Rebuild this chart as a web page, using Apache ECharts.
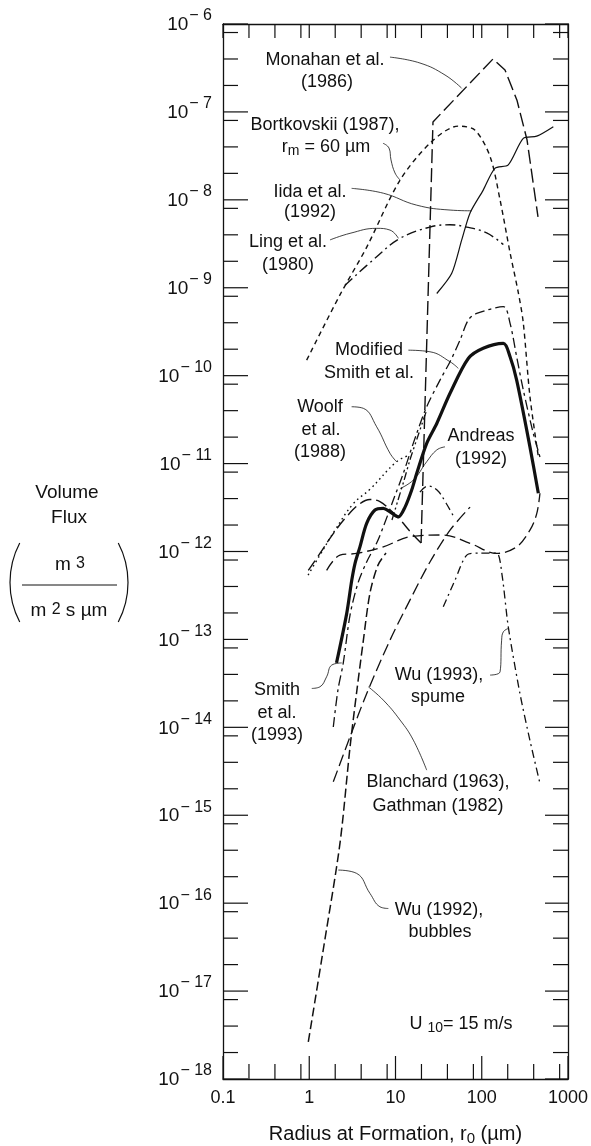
<!DOCTYPE html>
<html><head><meta charset="utf-8">
<script src="https://cdn.jsdelivr.net/npm/echarts@6/dist/echarts.min.js"></script>
<style>html,body{margin:0;padding:0;background:#fff}#c{width:591px;height:1146px}</style>
</head><body><div id="c"></div>
<script>
// ---------- axis ticks ----------
const xTicksMajor = [0.1, 1, 10, 100, 1000];
const xTicksMinor = [0.2, 0.4, 0.8, 2, 4, 8, 20, 40, 80, 200, 400, 800];
const yTicksMajor = [1e-18, 1e-17, 1e-16, 1e-15, 1e-14, 1e-13, 1e-12, 1e-11, 1e-10, 1e-9, 1e-8, 1e-7, 1e-6];
const yTicksMinor = [2e-18, 4e-18, 8e-18, 2e-17, 4e-17, 8e-17, 2e-16, 4e-16, 8e-16, 2e-15, 4e-15, 8e-15,
  2e-14, 4e-14, 8e-14, 2e-13, 4e-13, 8e-13, 2e-12, 4e-12, 8e-12, 2e-11, 4e-11, 8e-11,
  2e-10, 4e-10, 8e-10, 2e-9, 4e-9, 8e-9, 2e-8, 4e-8, 8e-8, 2e-7, 4e-7, 8e-7];

// ---------- curves: [radius (um), volume flux] ----------
const monahanBubble = [[0.975,6.1e-13],[1.33,9.5e-13],[1.9,1.6e-12],[2.72,2.5e-12],[3.87,3.5e-12],[5.06,3.9e-12],[6.6,3.7e-12],[8.6,3.0e-12],[11.3,2.3e-12],[14.7,1.7e-12],[19.8,1.25e-12]];
const monahanSpume = [[19.8,1.25e-12],[27.2,7.7e-8],[135,4.0e-7],[186,3.0e-7],[256,1.36e-7],[335,4.8e-8],[449,6.4e-9]];
const bortkovskii = [[0.933,1.5e-10],[2.27,8.3e-10],[4.64,2.9e-9],[11.3,1.68e-8],[26.3,4.6e-8],[53.5,6.9e-8],[83.6,6.2e-8],[125,3.1e-8],[163,1.0e-8],[213,2.5e-9],[266,8.7e-10],[303,4.0e-10],[362,5.8e-11],[453,1.2e-11]];
const iida = [[30.1,8.6e-10],[44.9,1.46e-9],[58.6,3.5e-9],[73.2,7.1e-9],[104,1.29e-8],[142,2.28e-8],[203,2.5e-8],[303,5.0e-8],[434,5.3e-8],[676,6.8e-8]];
const ling = [[2.6,1.07e-9],[6.05,2.25e-9],[11.3,3.65e-9],[25.1,4.9e-9],[42.8,5.2e-9],[67,4.9e-9],[114,4.2e-9],[178,3.1e-9]];
const modifiedSmith = [[2.07,5.4e-14],[2.72,1.98e-13],[3.11,4.7e-13],[3.39,7.3e-13],[3.87,1.13e-12],[4.63,2.09e-12],[5.78,2.96e-12],[7.22,3.09e-12],[8.63,2.83e-12],[10.8,2.48e-12],[12.9,3.2e-12],[15.4,5.0e-12],[17.6,7.7e-12],[23,1.7e-11],[30.1,2.86e-11],[42.9,6.3e-11],[69.8,1.57e-10],[104,2.05e-10],[178,2.33e-10],[213,1.64e-10],[254,8.9e-11],[362,1.55e-11],[453,4.6e-12]];
const smith1993 = [[1.9,1.01e-14],[2.15,2.65e-14],[2.48,5.4e-14],[2.97,1.89e-13],[3.67,4.37e-13],[4.63,7.6e-13],[6.05,1.25e-12],[7.22,1.91e-12],[9.43,3.85e-12],[12.3,7.7e-12],[14.7,1.31e-11],[17.6,2.2e-11],[23,4.43e-11],[32.8,8.9e-11],[42.9,1.44e-10],[56,2.54e-10],[69.8,4.3e-10],[87.5,5.1e-10],[178,6.1e-10],[213,3.94e-10],[254,1.64e-10],[303,6.9e-11],[396,2.2e-11],[473,1.19e-11]];
const woolf = [[0.97,5.4e-13],[1.33,9.1e-13],[1.99,1.75e-12],[3.24,3.5e-12],[5.06,5.1e-12],[10.3,1.05e-11],[14.7,1.25e-11]];
const andreas = [[9.1,2.28e-12],[10.7,3.85e-12],[12.6,6.5e-12],[14.7,1.1e-11],[18.2,2.06e-11],[22.6,3.86e-11]];
const dashDotHump = [[19.2,4.74e-12],[23.8,5.55e-12],[30.3,5.0e-12],[38.5,3.56e-12],[47.6,2.46e-12]];
const longDashArc = [[1.59,6.1e-13],[2.27,9.1e-13],[3.55,9.5e-13],[7.22,1.13e-12],[14.7,1.47e-12],[35.8,1.54e-12],[73.2,1.24e-12],[149,9.5e-13],[254,1.13e-12],[362,1.75e-12],[434,2.7e-12],[473,4.6e-12]];
const blanchardGathman = [[1.9,2.4e-15],[2.97,7.8e-15],[4.64,2.43e-14],[8.63,9.8e-14],[14.7,2.8e-13],[25.1,7.6e-13],[42.9,1.75e-12],[73.2,3.2e-12]];
const wu1993Spume = [[35.8,2.35e-13],[49,4.73e-13],[67,9.1e-13],[95.5,9.6e-13],[149,9.6e-13],[172,5.4e-13],[203,1.39e-13],[277,2.43e-14],[362,7.1e-15],[473,2.3e-15]];
const wu1992Bubbles = [[0.975,2.64e-18],[1.48,3.3e-17],[2.27,4.78e-16],[2.97,5.96e-15],[3.57,2.65e-14],[4.2,9.1e-14],[5.06,3.37e-13],[6.27,7.0e-13],[7.76,9.6e-13]];

// ---------- leader lines (data coordinates) ----------
const leaderMonahan = [[8.63,4.2e-7],[19.2,3.6e-7],[37.5,2.63e-7],[58.6,1.86e-7]];
const leaderBortkovskii = [[7.16,4.4e-8],[8.41,3.88e-8],[8.87,2.84e-8],[9.87,2.02e-8],[11.3,1.68e-8]];
const leaderIida = [[3.1,1.35e-8],[7.22,1.19e-8],[17.6,8.7e-9],[42.9,7.65e-9],[76.4,7.5e-9]];
const leaderLing = [[1.74,3.5e-9],[2.97,4.16e-9],[6.05,4.74e-9],[8.63,4.53e-9],[10.8,3.65e-9]];
const leaderModSmith = [[14.1,1.95e-10],[25.1,1.87e-10],[42.9,1.44e-10],[53.5,1.21e-10]];
const leaderWoolf = [[3.1,4.43e-11],[4.24,4.25e-11],[6.05,2.62e-11],[8.63,1.31e-11],[10.3,1.05e-11]];
const leaderAndreas = [[37.5,1.55e-11],[30.1,1.43e-11],[23,1.05e-11],[16.1,6.5e-12],[11.3,5.2e-12]];
const leaderSmith1993 = [[1.07,2.77e-14],[1.33,2.89e-14],[1.59,3.76e-14],[1.82,5.1e-14],[2.38,5.4e-14]];
const leaderWu1993 = [[125,3.93e-14],[163,4.28e-14],[170,9.8e-14],[178,1.22e-13],[203,1.33e-13]];
const leaderBlanchard = [[23,3.26e-15],[16.1,7.15e-15],[11.3,1.21e-14],[7.22,2.04e-14],[4.84,2.89e-14]];
const leaderWu1992 = [[8.26,8.7e-17],[6.6,9.1e-17],[5.06,1.29e-16],[3.55,2.18e-16],[2.17,2.38e-16]];

// ---------- styling / layout ----------
const FONT = '"Liberation Sans", Arial, Helvetica, sans-serif';
const X_MIN = 0.1, X_MAX = 1000, Y_MIN = 1e-18, Y_MAX = 1e-6;
const INK = '#111';
const measureCtx = document.createElement('canvas').getContext('2d');
function textWidth(str, font) { measureCtx.font = font; return measureCtx.measureText(str).width; }

function curve(name, data, dash, width, smooth, z) {
  return {type:'line', name, data, symbol:'none', showSymbol:false, smooth: smooth,
    clip:false, z: z || 3, silent:true,
    lineStyle:{color:INK, width:width, type: dash, cap:'butt', join:'round'}};
}
function leader(name, data) {
  return {type:'line', name, data, symbol:'none', showSymbol:false, smooth:0.45, clip:false, z:4, silent:true,
    lineStyle:{color:INK, width:0.8, type:'solid'}};
}
function ticks(name, values, axis, lenA, lenB) {
  return {type:'custom', name, coordinateSystem:'cartesian2d', clip:false, silent:true, z:6,
    data: values.map(v => axis === 'x' ? [v, Y_MIN] : [X_MIN, v]),
    renderItem: function (params, api) {
      const st = {stroke:INK, lineWidth:1.2};
      if (axis === 'x') {
        const v = api.value(0);
        const a = api.coord([v, Y_MIN]), b = api.coord([v, Y_MAX]);
        return {type:'group', children:[
          {type:'line', shape:{x1:a[0], y1:a[1], x2:a[0], y2:a[1]-lenA}, style:st},
          {type:'line', shape:{x1:b[0], y1:b[1], x2:b[0], y2:b[1]+lenB}, style:st}]};
      } else {
        const v = api.value(1);
        const a = api.coord([X_MIN, v]), b = api.coord([X_MAX, v]);
        return {type:'group', children:[
          {type:'line', shape:{x1:a[0], y1:a[1], x2:a[0]+lenA, y2:a[1]}, style:st},
          {type:'line', shape:{x1:b[0], y1:b[1], x2:b[0]-lenB, y2:b[1]}, style:st}]};
      }
    }};
}
// y tick labels: "10" with a raised exponent, placed on the axis scale
const BASE_FONT = '19px ' + FONT, SUP_FONT = '16px ' + FONT;
const yLabelSeries = {
  type:'custom', name:'yLabels', coordinateSystem:'cartesian2d', clip:false, silent:true, z:8,
  data: yTicksMajor.map(v => [X_MIN, v]),
  renderItem: function (params, api) {
    const v = api.value(1);
    const p = api.coord([X_MIN, v]);
    const sup = '− ' + (-Math.round(Math.log10(v)));
    const right = p[0] - 11;
    const ws = textWidth(sup, SUP_FONT);
    return {type:'group', children:[
      {type:'text', style:{text:'10', x:right - ws - 1, y:p[1] + 1, font:BASE_FONT, fill:INK,
        align:'right', verticalAlign:'middle', textAlign:'right', textVerticalAlign:'middle'}},
      {type:'text', style:{text:sup, x:right, y:p[1] - 8, font:SUP_FONT, fill:INK,
        align:'right', verticalAlign:'middle', textAlign:'right', textVerticalAlign:'middle'}}
    ]};
  }
};

const richBase = {
  a:{fontSize:18, fontFamily:FONT, color:INK, verticalAlign:'top', lineHeight:20},
  sub:{fontSize:14, fontFamily:FONT, color:INK, verticalAlign:'bottom', lineHeight:14, padding:[9,0,0,0]},
  ta:{fontSize:19, fontFamily:FONT, color:INK, verticalAlign:'bottom', lineHeight:19, padding:[9,0,0,0]},
  sup:{fontSize:16, fontFamily:FONT, color:INK, verticalAlign:'top', lineHeight:16}
};

function txt(text, x, y, size, rich) {
  const style = {text, x, y, fill:INK, font: size + 'px ' + FONT, textAlign:'center', textVerticalAlign:'middle'};
  if (rich) style.rich = richBase;
  return {type:'text', silent:true, z:10, style};
}

const labels = [
  txt('Monahan et al.', 325, 60, 18), txt('(1986)', 327, 82, 18),
  txt('Bortkovskii (1987),', 325, 125, 18), txt('{a|r}{sub|m}{a| = 60 µm}', 326, 148, 18, true),
  txt('Iida et al.', 310, 192, 18), txt('(1992)', 310, 212, 18),
  txt('Ling et al.', 288, 242, 18), txt('(1980)', 288, 265, 18),
  txt('Modified', 369, 350, 18), txt('Smith et al.', 369, 373, 18),
  txt('Woolf', 320, 407, 18), txt('et al.', 321, 430, 18), txt('(1988)', 320, 452, 18),
  txt('Andreas', 481, 436, 18), txt('(1992)', 481, 459, 18),
  txt('Smith', 277, 690, 18), txt('et al.', 277, 713, 18), txt('(1993)', 277, 735, 18),
  txt('Wu (1993),', 439, 675, 18), txt('spume', 438, 697, 18),
  txt('Blanchard (1963),', 438, 782, 18), txt('Gathman (1982)', 438, 806, 18),
  txt('Wu (1992),', 439, 910, 18), txt('bubbles', 440, 932, 18),
  txt('{a|U }{sub|10}{a|= 15 m/s}', 461, 1025, 18, true),
  // y-axis title
  txt('Volume', 67, 493, 19), txt('Flux', 69, 518, 19),
  txt('{ta|m }{sup|3}', 70, 565, 19, true),
  txt('{ta|m }{sup|2}{ta| s µm}', 69, 611, 19, true),
  {type:'line', silent:true, shape:{x1:22, y1:585, x2:117, y2:585}, style:{stroke:INK, lineWidth:1}},
  {type:'arc', silent:true, shape:{cx:95, cy:582.5, r:85, startAngle:Math.PI-0.483, endAngle:Math.PI+0.483, clockwise:true}, style:{stroke:INK, fill:'none', lineWidth:1.2}},
  {type:'arc', silent:true, shape:{cx:43, cy:582.5, r:85, startAngle:-0.483, endAngle:0.483, clockwise:true}, style:{stroke:INK, fill:'none', lineWidth:1.2}}
];

const chart = echarts.init(document.getElementById('c'), null, {renderer:'canvas'});
const axisLineStyle = {show:true, onZero:false, lineStyle:{color:INK, width:1.3}};
chart.setOption({
  animation:false,
  backgroundColor:'#fff',
  grid:{left:223, right:23, top:24, bottom:67, containLabel:false, outerBoundsMode:'none'},
  xAxis:[
    {type:'log', logBase:10, min:X_MIN, max:X_MAX, splitNumber:4, position:'bottom',
     axisLine:axisLineStyle, axisTick:{show:false}, minorTick:{show:false}, splitLine:{show:false},
     axisLabel:{show:true, margin:10, fontSize:18, fontFamily:FONT, color:INK, showMinLabel:true, showMaxLabel:true,
       customValues: xTicksMajor,
       formatter:v => String(Number(Number(v).toPrecision(6)))},
     name:'{a|Radius at Formation, r}{sub|0}{a| (µm)}', nameLocation:'middle', nameGap:45,
     nameTextStyle:{rich:{
       a:{fontSize:20, fontFamily:FONT, color:INK, verticalAlign:'top', lineHeight:22},
       sub:{fontSize:15, fontFamily:FONT, color:INK, verticalAlign:'bottom', lineHeight:15, padding:[11,0,0,0]}}}},
    {type:'log', logBase:10, min:X_MIN, max:X_MAX, position:'top',
     axisLine:axisLineStyle, axisTick:{show:false}, axisLabel:{show:false}, splitLine:{show:false}}
  ],
  yAxis:[
    {type:'log', logBase:10, min:Y_MIN, max:Y_MAX, splitNumber:12, position:'left',
     axisLine:axisLineStyle, axisTick:{show:false}, minorTick:{show:false}, splitLine:{show:false},
     axisLabel:{show:false}},
    {type:'log', logBase:10, min:Y_MIN, max:Y_MAX, position:'right',
     axisLine:axisLineStyle, axisTick:{show:false}, axisLabel:{show:false}, splitLine:{show:false}}
  ],
  graphic: labels,
  series:[
    ticks('xMajor', xTicksMajor, 'x', 23, 14),
    ticks('xMinor', xTicksMinor, 'x', 15, 14),
    ticks('yMajor', yTicksMajor, 'y', 25, 23),
    ticks('yMinor', yTicksMinor, 'y', 15, 15),
    yLabelSeries,
    curve('Monahan et al. (1986) bubbles', monahanBubble, [12,5], 1.4, 0.4),
    curve('Monahan et al. (1986) spume', monahanSpume, [14,5], 1.4, false),
    curve('Bortkovskii (1987)', bortkovskii, [5,4], 1.4, 0.3),
    curve('Iida et al. (1992)', iida, 'solid', 1.2, 0.25),
    curve('Ling et al. (1980)', ling, [10,4,2,4], 1.4, 0.4),
    curve('Smith et al. (1993)', smith1993, [10,4,3,4], 1.3, 0.3),
    curve('Woolf et al. (1988)', woolf, [1.6,3.4], 1.4, 0.4),
    curve('Andreas (1992)', andreas, [8,3,2,3,2,3], 1.3, 0.3),
    curve('Dash-dot segment', dashDotHump, [8,4,2,4], 1.3, 0.4),
    curve('Long-dash arc', longDashArc, [11,5], 1.3, 0.35),
    curve('Blanchard (1963), Gathman (1982)', blanchardGathman, [12,5], 1.3, 0.3),
    curve('Wu (1993), spume', wu1993Spume, [8,4,2,4], 1.3, 0.25),
    curve('Wu (1992), bubbles', wu1992Bubbles, [9,4], 1.5, 0.3),
    curve('Modified Smith et al.', modifiedSmith, 'solid', 3.2, 0.3, 7),
    leader('leader Monahan', leaderMonahan),
    leader('leader Bortkovskii', leaderBortkovskii),
    leader('leader Iida', leaderIida),
    leader('leader Ling', leaderLing),
    leader('leader Modified Smith', leaderModSmith),
    leader('leader Woolf', leaderWoolf),
    leader('leader Andreas', leaderAndreas),
    leader('leader Smith 1993', leaderSmith1993),
    leader('leader Wu 1993', leaderWu1993),
    leader('leader Blanchard', leaderBlanchard),
    leader('leader Wu 1992', leaderWu1992)
  ]
});
</script></body></html>
